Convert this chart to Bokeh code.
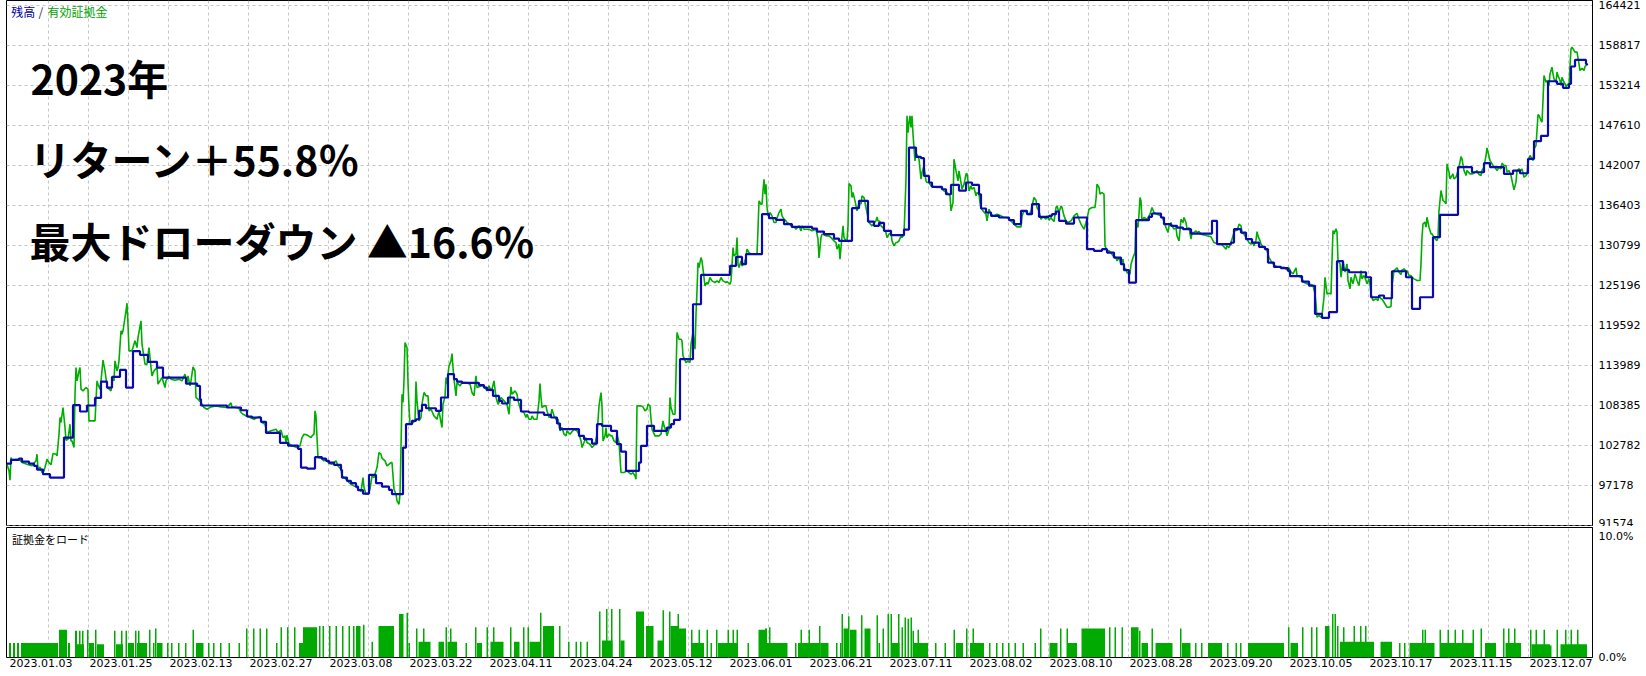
from bokeh.plotting import figure
from bokeh.models import Range1d, LinearAxis, FixedTicker, Label
from bokeh.layouts import column
from bokeh.embed import file_html
from bokeh.resources import INLINE

# ---------------- data ----------------
# equity (有効証拠金): x = deal/bar index, y = account value
eq_bar = [-1, 1, 2, 3, 4, 11, 14, 19, 24, 28, 29, 30, 32, 34, 36, 38, 39, 41, 43, 45, 48, 49, 51, 52, 53, 55, 57, 58, 60, 62,
          63, 64, 66, 67, 68, 69, 71, 72, 73, 75, 78, 80, 81, 83, 87, 89, 90, 92, 93, 95, 97, 99, 100, 103, 105, 106, 107, 109, 110, 111,
          113, 114, 115, 117, 118, 119, 120, 121, 124, 127, 129, 130, 133, 134, 135, 137, 139, 141, 143, 144, 146, 149, 150, 152, 154, 157, 158, 161, 163, 167,
          171, 174, 177, 179, 180, 182, 183, 185, 187, 188, 190, 193, 196, 199, 203, 208, 213, 219, 223, 224, 228, 231, 233, 235, 239, 242, 246, 249, 252, 254,
          257, 259, 263, 268, 270, 273, 275, 277, 278, 279, 281, 284, 289, 292, 294, 296, 299,
          303, 304, 306, 307, 308, 309, 310, 313, 316, 318, 321, 324, 328, 330, 333, 334, 336, 339, 341, 343, 346, 349, 353, 355, 356, 358, 360, 362, 364, 366,
          369, 371, 373, 374, 377, 379, 383, 384, 386, 388, 389, 391, 392, 393, 394, 395, 396, 397, 399, 400, 401, 402, 404, 407, 408, 409, 411, 413, 414, 416,
          418, 420, 421, 423, 426, 429, 431, 433, 434, 435, 437, 438, 439, 440, 441, 443, 444, 445, 446, 448, 449, 452, 454, 458, 462, 464, 466, 468, 469, 473,
          476, 479, 481, 483, 484, 486, 488, 490, 491, 493, 496, 499, 501, 503, 504, 507, 509, 510, 513, 516, 518, 519, 521, 523, 524, 526, 529, 531, 532, 533,
          534, 536, 538, 539, 541, 543, 544, 546, 549, 550, 552, 554, 556, 558, 559, 562, 566, 569, 571, 573, 574, 576, 578, 579, 582, 584, 587, 589, 590, 591,
          593, 594, 595, 597, 598, 599, 601, 603, 604, 606, 608, 609, 611, 613, 616, 619, 621, 623, 625, 627, 628,
          629, 633, 635, 637, 639, 640, 642, 643, 644, 647, 651, 653, 655, 656, 658, 659, 661, 662, 663, 665, 667, 668, 669, 671, 673, 674, 675, 678, 680, 682,
          683, 685, 687, 688, 689, 690, 691, 693, 694, 695, 697, 699, 700, 702, 704, 707, 709, 711, 713, 715, 718, 719, 722, 723, 724, 725, 726, 728, 729, 730,
          731, 733, 734, 736, 738, 739, 741, 743, 745, 749, 750, 751, 753, 754, 755, 756, 757, 758, 759, 760, 762, 764, 766, 768, 769, 771, 773, 774, 776, 778,
          779, 782, 784, 786, 788, 791, 793, 794, 796, 799, 801, 804, 808, 810, 811, 813, 814, 815, 818, 821, 823, 826, 828, 829, 831, 832, 833, 835, 836, 838,
          839, 840, 841, 843, 844, 845, 847, 849, 851, 853, 854, 856, 858, 859, 861, 864, 868, 869, 870, 872, 873, 875, 877, 878, 879, 881, 883, 884, 886, 888,
          889, 891, 893, 894, 896, 898, 899, 900, 901, 902, 903, 904, 905, 907, 908, 909, 911, 913, 914, 916, 918, 919, 921, 923, 926, 929, 933, 936, 939, 942,
          943, 945, 946,
          948, 950, 951, 953, 954, 956, 958, 959, 960, 961, 963, 964, 966, 968, 969, 971, 972, 973, 975, 978, 979, 981, 983, 986, 989, 993, 996, 999, 1003, 1006,
          1009, 1013, 1014, 1016, 1019, 1021, 1023, 1024, 1026, 1028, 1029, 1031, 1033, 1035, 1038, 1039, 1041, 1043, 1044, 1046, 1048, 1049, 1051, 1053, 1054, 1056, 1058, 1060, 1063, 1066,
          1068, 1069, 1071, 1073, 1074, 1076, 1078, 1079, 1081, 1084, 1087, 1088, 1089, 1091, 1092, 1094, 1096, 1097, 1099, 1101, 1103, 1105, 1108, 1109, 1111, 1113, 1115, 1116, 1118, 1119,
          1122, 1123, 1125, 1127, 1128, 1130, 1131, 1132, 1133, 1134, 1136, 1139, 1142, 1144, 1146, 1149, 1153, 1155, 1157, 1158, 1160, 1161, 1163, 1164, 1166, 1168, 1169, 1171, 1172, 1173,
          1175, 1176, 1178, 1179, 1181, 1183, 1184, 1186, 1188, 1189, 1191, 1193, 1196, 1199, 1203, 1206, 1209, 1213, 1215, 1218, 1219, 1221, 1223, 1224, 1226, 1228, 1229, 1231, 1233, 1234,
          1236, 1238, 1239, 1241, 1243, 1244, 1246, 1248, 1249, 1250, 1252, 1253, 1255, 1258, 1259, 1261, 1263, 1264, 1266, 1269, 1273,
          1276, 1279, 1281, 1283, 1285, 1288, 1289, 1293, 1296, 1299, 1303, 1305, 1307, 1308, 1309, 1311, 1313, 1314, 1316, 1317, 1319, 1321, 1323, 1324, 1325, 1326, 1328, 1329, 1330, 1332,
          1333, 1335, 1337, 1339, 1340, 1342, 1343, 1345, 1347, 1349, 1351, 1353, 1354, 1356, 1358, 1359, 1361, 1362, 1363, 1365, 1368, 1370, 1371, 1373, 1374, 1376, 1379, 1381, 1383, 1384,
          1386, 1388, 1389, 1391, 1393, 1394, 1396, 1398, 1399, 1401, 1403, 1404, 1406, 1408, 1409, 1412, 1413, 1414, 1415, 1417, 1418, 1419, 1421, 1423, 1424, 1426, 1428, 1429, 1430, 1431,
          1433, 1434, 1435, 1437, 1438, 1439, 1441, 1442, 1443, 1445, 1446, 1448, 1449, 1451, 1453, 1454, 1456, 1458, 1459, 1462, 1464, 1466, 1469, 1471, 1473, 1474, 1476, 1478, 1479, 1480,
          1482, 1483, 1485, 1488, 1489, 1491, 1493, 1494, 1496, 1498, 1499, 1501, 1503, 1504, 1506, 1508, 1509, 1511, 1513, 1514, 1516, 1518, 1519, 1520, 1522, 1523, 1525, 1526, 1528, 1529,
          1530, 1531, 1533, 1534, 1535, 1536, 1537, 1538, 1539, 1541, 1542, 1544, 1545, 1546, 1548, 1549, 1550, 1552, 1553, 1554, 1556, 1557, 1558, 1560, 1561, 1562, 1563, 1564, 1566, 1567,
          1569, 1571, 1572, 1574, 1576, 1577, 1579]
eq_val = [100120, 99180, 97880, 101050, 100730, 100820, 100350, 100120, 99890, 100590, 101520, 99420, 99740, 98950, 99180, 100210, 100820, 100350, 100030, 101610, 101520, 101290, 104320, 106660, 105960, 108060, 105260, 103480, 103620, 105720,
          103390, 103390, 102450, 109930, 113660, 111790, 113190, 113660, 110630, 110390, 110860, 110630, 106190, 106190, 106190, 111790, 111330, 110630, 111790, 114690, 113190, 111090, 110770, 110390, 112260, 111790, 114600, 113190, 113660, 114600,
          118800, 118330, 118800, 120670, 121600, 122670, 119730, 116000, 116000, 117400, 116460, 117860, 120200, 116930, 116000, 114130, 114130, 116460, 113660, 112490, 113190, 113660, 111330, 111790, 112260, 110860, 111790, 112450, 112030, 111890,
          112030, 111790, 112730, 111560, 112490, 111090, 111790, 113750, 113190, 109460, 109230, 108760, 108060, 107820, 108150, 108290, 108150, 108060, 108710, 108150, 108060, 107920, 107360, 107120, 106840, 106660, 106420, 106660, 106800, 105960,
          105720, 104560, 104790, 105020, 104560, 104880, 103850, 104090, 103150, 104180, 103010, 102690, 102450, 102690, 103850, 104320, 104230,
          103850, 104090, 104320, 107590, 106890, 103850, 101050, 100960, 100590, 100820, 100210, 100120, 100590, 99880, 99420, 98480, 98250, 97880, 97550, 97320, 97080, 96850, 96290, 98250, 96850, 95920, 95920, 96620, 98480, 98250,
          99650, 101750, 101520, 100960, 100590, 99880, 100350, 100350, 96620, 95920, 94980, 94510, 95920, 102450, 109930, 108760, 111790, 117160, 116460, 111560, 108060, 105720, 105820, 106190, 111700, 108990, 106190, 106660, 108520, 110160,
          109690, 109690, 107590, 107820, 106890, 106420, 107590, 105960, 105260, 108520, 109550, 112260, 111330, 112730, 113890, 114600, 115620, 113660, 112030, 109690, 111560, 111090, 111560, 111560, 111330, 110160, 109690, 112490, 110860, 111090,
          111090, 110390, 111090, 110390, 110630, 111790, 109460, 108520, 108760, 109460, 108990, 108520, 107120, 110950, 109930, 110390, 109930, 108990, 107590, 107360, 106660, 107120, 106420, 106420, 106890, 106420, 106420, 108990, 111420, 109460,
          108060, 108290, 108290, 107590, 106660, 107120, 107820, 106890, 106190, 106420, 104790, 105260, 104320, 104090, 104790, 104320, 105020, 104790, 104320, 103390, 102450, 103150, 103850, 103150, 102920, 102450, 102920, 104320, 106190, 108290,
          110160, 108290, 103390, 104090, 105260, 103850, 104320, 104090, 104090, 103390, 103150, 104320, 103150, 98950, 98950, 99180, 98950, 98720, 98950, 98480, 98020,
          108290, 108290, 108150, 107590, 107820, 108520, 108290, 106420, 105020, 104090, 104090, 104320, 106190, 105490, 104790, 104090, 105020, 109460, 108060, 107120, 107120, 112730, 118560, 117630, 117630, 117400, 115290, 114360, 114590, 114360,
          116930, 118560, 116230, 121130, 124400, 128370, 127670, 129070, 128600, 127440, 125100, 125570, 125330, 126270, 125800, 125570, 125800, 125570, 126270, 125800, 125570, 125710, 125330, 125800, 127900, 130470, 129300, 129540, 131870, 128140,
          127670, 128600, 127900, 128230, 129070, 130240, 129770, 129540, 129540, 129540, 133040, 137010, 136540, 136540, 138410, 140040, 137940, 139340, 136080, 134910, 135370, 134910, 133970, 133970, 134580, 135370, 135840, 134910, 134440, 134210,
          133970, 133740, 133270, 133370, 133040, 133510, 132810, 133510, 133040, 133040, 133040, 132810, 133040, 131640, 129000, 131870, 132340, 132340, 132110, 132110, 131870, 131410, 131170, 130240, 130940, 128840, 130470, 133510, 131870, 131410,
          131410, 133510, 139440, 139110, 137480, 138180, 137010, 135610, 136780, 136540, 137710, 137480, 136080, 135370, 133970, 133510, 134210, 134770, 134210, 134110, 133510, 133270, 132810, 132570, 131870, 132340, 132570, 131410, 130700, 131170,
          131170, 131410, 132110, 131870, 132340, 140040, 148920, 146580, 147980, 148920, 147280, 148920, 146350, 142610, 143550, 143550, 142850, 140040, 140980, 141910, 139810, 139580, 139580, 139110, 138970, 138880, 138880, 138410, 138180, 137710,
          135610, 136780, 142850,
          141210, 139810, 141210, 139580, 138640, 139350, 140750, 140840, 139810, 138410, 139110, 138640, 138880, 137710, 138180, 137940, 136780, 136080, 135610, 135140, 134210, 135840, 135140, 134910, 135140, 134910, 134680, 134680, 134210, 133740,
          133370, 133370, 134910, 135610, 135380, 135050, 135610, 136310, 137480, 137100, 136080, 135610, 134440, 134770, 134440, 134910, 134300, 134680, 134440, 134110, 136080, 136310, 135380, 136310, 136080, 134910, 134210, 133970, 134210, 134910,
          135140, 135240, 134440, 133740, 133510, 133040, 133970, 134440, 135840, 136080, 136080, 137240, 139350, 138880, 137940, 138180, 137940, 130710, 130010, 130010, 129770, 129310, 129070, 128600, 129070, 128140, 128840, 127670, 127440, 126970,
          126740, 128140, 129070, 129770, 134210, 133270, 135140, 137480, 137010, 134210, 134680, 134440, 135140, 136080, 135380, 135140, 134910, 134440, 133740, 133270, 132570, 133510, 133970, 133510, 133040, 133270, 132110, 131410, 132810, 134440,
          133970, 134680, 133970, 133040, 133270, 131640, 132570, 132570, 132810, 132570, 132710, 132340, 132250, 132110, 131970, 131170, 131030, 130940, 130710, 130240, 130710, 130470, 131170, 131640, 132570, 133040, 132810, 133740, 133510, 132570,
          132340, 131870, 131640, 131170, 130940, 131410, 130710, 131500, 132710, 132110, 131410, 130940, 130570, 130240, 130010, 129070, 128600, 128370, 128040, 127760, 127670,
          127720, 127340, 127620, 127020, 126780, 127620, 126550, 126310, 125610, 125380, 125290, 125150, 123980, 122580, 120710, 120940, 120710, 120940, 123510, 126310, 123980, 124070, 123980, 128650, 132850, 132390, 133090, 132620, 128650, 128180,
          126310, 128650, 127020, 128180, 125850, 124680, 126310, 125380, 126780, 125850, 125150, 127250, 126080, 126550, 125850, 125380, 126080, 125380, 123980, 123050, 123280, 123050, 123750, 123280, 123280, 122810, 122110, 122110, 122200, 125150,
          127250, 127480, 127620, 127020, 126690, 127340, 127480, 127150, 127250, 126550, 126550, 126310, 126080, 125940, 125850, 125850, 128180, 131920, 133790, 134020, 133320, 134720, 133320, 132390, 132390, 131920, 131550, 131450, 131920, 135650,
          138460, 137760, 137060, 136820, 136590, 142190, 141030, 140090, 140320, 140790, 140090, 140320, 140790, 141730, 143220, 142890, 141260, 140560, 141260, 140790, 140790, 140880, 141260, 140700, 140560, 141260, 141730, 143360, 144430, 143830,
          142660, 142430, 141960, 141490, 141260, 141730, 141490, 142290, 141960, 141960, 141030, 141260, 140560, 139860, 138550, 139630, 141260, 141490, 141260, 141490, 140320, 140560, 140790, 142430, 143360, 143130, 142660, 144290, 144760, 146860,
          149100, 148960, 148260, 148030, 151070, 154570, 154100, 153630, 153870, 153170, 154800, 155740, 154800, 154100, 153630, 155040, 154570, 153870, 153170, 154330, 153630, 153400, 153030, 153400, 153030, 155970, 158300, 158540, 158070, 157840,
          157840, 156200, 155270, 155600, 155270, 155830, 156110]

# balance (残高): value holds from its index until the next change
bal_bar = [-1, 3, 11, 14, 21, 26, 29, 35, 42, 56, 65, 72, 79, 87, 93, 99, 104, 112, 118, 125, 132, 140, 149, 155, 178, 189, 192, 193, 219, 233,
           239, 244, 253, 258, 272, 280, 290, 293, 299, 307, 314, 318, 321, 326, 333, 334, 339, 343, 348, 350, 355, 361, 368, 374, 381, 384, 395, 398, 404, 408,
           411, 414, 418, 428, 433, 440, 446, 449, 454, 471, 476, 479, 485, 491, 494, 500, 506, 513, 521, 536, 543, 549, 552, 571, 576, 584, 589, 594, 603, 609,
           613, 618, 631, 633, 639, 646, 659, 663, 666, 672, 685, 693, 722, 728, 734, 738, 754, 761, 768, 776, 784, 804, 809, 816, 826, 831, 844, 851, 860, 866,
           871, 876, 883, 896, 901, 908, 913, 916, 921, 924, 934, 938, 943, 951, 958, 964, 971, 973, 978, 983, 991, 1001, 1006, 1013, 1019, 1024, 1031, 1041, 1044, 1048,
           1051, 1058, 1066, 1079, 1086, 1094, 1099, 1106, 1113, 1116, 1121, 1128, 1141, 1144, 1153, 1156, 1163, 1169, 1175, 1183, 1204, 1209, 1223, 1226, 1233, 1238, 1244, 1251, 1257, 1260,
           1266, 1273, 1280, 1282, 1294, 1301, 1307, 1314, 1321, 1329, 1335, 1341, 1358, 1363, 1371, 1376, 1384, 1398, 1404, 1412, 1425, 1432, 1450, 1464, 1476, 1482, 1496, 1505, 1512, 1520,
           1526, 1533, 1540, 1549, 1555, 1561, 1563, 1567, 1578, 1579]
bal_val = [100210, 100730, 100910, 100490, 100210, 99890, 99370, 98720, 98250, 103850, 108390, 107500, 108340, 109410, 111700, 110860, 112350, 113330, 110860, 115950, 115440, 114460, 113660, 112260, 111420, 111090, 109230, 108340, 108060, 107680,
           106800, 106660, 106050, 104510, 103110, 102730, 102270, 99650, 99510, 101100, 100910, 100590, 100350, 100030, 99320, 98250, 97780, 97460, 96990, 96480, 96010, 98620, 97460, 96990, 96520, 95920, 102450, 105720, 106190, 106420,
           107590, 108430, 107960, 107590, 109460, 112730, 112030, 111700, 111510, 111190, 110860, 110530, 109690, 108990, 108620, 109460, 109130, 107500, 107360, 107030, 106660, 105820, 105020, 104090, 103620, 103010, 105720, 105490, 104790, 102920,
           101890, 99180, 100350, 102690, 105490, 104790, 105250, 105720, 106330, 114830, 122530, 126640, 127900, 129160, 128140, 129540, 135140, 134580, 134350, 133740, 133370, 133130, 132710, 132340, 131730, 131410, 135980, 137010, 134110, 133510,
           133930, 132810, 132200, 132990, 144480, 143170, 142990, 140510, 139580, 138970, 138640, 137940, 139250, 138450, 139580, 139250, 137940, 135940, 135380, 134910, 134680, 134300, 133740, 135610, 135140, 136540, 134770, 134910, 135140, 135520,
           134210, 133830, 134680, 130240, 130010, 130240, 129770, 129070, 128140, 127300, 125570, 134300, 134770, 135240, 134680, 133740, 133510, 133270, 133040, 132430, 134210, 130940, 131170, 133040, 132570, 131640, 131170, 130570, 130240, 128370,
           127760, 127580, 127200, 126460, 125700, 125120, 121180, 120620, 121410, 128560, 127340, 127010, 126310, 123510, 123750, 123370, 127150, 126310, 121880, 123510, 131920, 135050, 141730, 141020, 142290, 141730, 140790, 141260, 140880, 142890,
           145370, 146120, 153770, 153400, 152840, 153400, 155830, 156760, 156200, 156010]

# margin load (証拠金をロード): runs of bars [from, to) with load in %
load_from = [1, 5, 9, 13, 51, 60, 67, 69, 71, 74,
             79, 81, 87, 89, 106, 108, 113, 117.5, 120, 127,
             129, 130, 141, 145, 147, 149, 159, 163, 170, 177,
             184.5, 188, 200, 205, 212, 220.5, 230.5, 238, 245, 251.5,
             258, 268, 272.5, 279, 286, 291, 295, 311, 314.5, 321,
             327.5, 334, 340.5, 345, 348, 355, 363.5, 370.5, 391, 398.5,
             400.5, 408, 410.5, 415, 430.5, 437.5, 439.5, 442, 457.5, 467,
             469, 478.5, 482.5, 485, 502, 506, 515, 519.5, 521.5, 532,
             535, 551, 560, 567.5, 572, 578.5, 591, 594, 598, 603,
             611, 612.5, 628, 638, 649.5, 654.5, 661, 662.5, 669.5, 671,
             683, 684, 690.5, 698.5, 702.5, 708, 710, 719.5, 724.5, 728.5,
             739.5, 750.5, 757, 759, 761, 787, 790, 792.5, 800.5, 811,
             812.5, 828, 832, 833.5, 835.5, 840, 842, 853, 856.5, 868.5,
             870.5, 874.5, 879.5, 882.5, 884, 890, 893.5, 896.5, 899.5, 902.5,
             904.5, 906, 909.5, 927, 936.5, 945.5, 948, 958, 962, 964.5,
             981, 988, 994, 1000, 1006.5, 1014.5, 1026.5, 1032, 1041.5, 1052,
             1058.5, 1060, 1073.5, 1101, 1106.5, 1113.5, 1123, 1131, 1133.5, 1143.5,
             1147.5, 1172, 1174, 1187, 1193, 1200, 1219, 1227.5, 1232, 1240,
             1280, 1282.5, 1294, 1303, 1308, 1317, 1324, 1326.5, 1329, 1332,
             1335, 1345.5, 1352, 1357, 1372.5, 1391, 1396, 1401.5, 1414, 1416.5,
             1431.5, 1433, 1439.5, 1446.5, 1454, 1464.5, 1472.5, 1477, 1495, 1497.5,
             1500, 1506, 1522, 1523.5, 1527.5, 1535.5, 1542, 1548.5, 1552.5, 1557,
             1562.5, 1569]
load_to = [3, 7, 11, 50, 59, 62, 69, 76, 72.5, 75.5,
           80.5, 86, 88.5, 96, 107.5, 115, 114.5, 119, 126, 128.5,
           139, 131.5, 142.5, 146.5, 148.5, 154.5, 160.5, 164.5, 171.5, 178.5,
           186, 195.5, 201.5, 206.5, 213.5, 222, 232, 239.5, 246.5, 253,
           259.5, 269.5, 274, 280.5, 287.5, 295, 309, 312.5, 316, 322.5,
           329, 335.5, 342, 346.5, 352.5, 356.5, 365, 386, 395.5, 400,
           402, 409.5, 422.5, 416.5, 436, 439, 449, 443.5, 459, 468.5,
           474, 480, 495.5, 486.5, 503.5, 511.5, 516.5, 521, 532, 533.5,
           546, 552.5, 561.5, 569, 573.5, 580, 592.5, 604.5, 599.5, 604.5,
           612.5, 616.5, 636, 645.5, 656, 656, 662.5, 670, 671, 678,
           684.5, 696, 692, 700, 704, 709.5, 730, 721, 726, 730,
           741, 757, 759, 779.5, 762.5, 788.5, 812.5, 794, 802, 812.5,
           820.5, 829.5, 833.5, 835, 840, 841.5, 848.5, 854.5, 862.5, 870,
           872, 876, 881, 884, 891.5, 891.5, 895, 898, 901, 904,
           906, 920, 911, 928.5, 938, 947, 955, 959.5, 976, 966,
           982.5, 989.5, 995.5, 1001.5, 1008, 1016, 1028, 1033.5, 1049.5, 1053.5,
           1060, 1069, 1097, 1102.5, 1108, 1115, 1130.5, 1132.5, 1140, 1145,
           1164.5, 1173.5, 1182.5, 1188.5, 1194.5, 1214, 1220.5, 1229, 1233.5, 1276,
           1281.5, 1290, 1295.5, 1304.5, 1309.5, 1321.5, 1325.5, 1328, 1330.5, 1366,
           1336.5, 1347, 1353.5, 1358.5, 1384, 1392.5, 1397.5, 1426.5, 1415.5, 1418,
           1433, 1466, 1441, 1448, 1455.5, 1466, 1474, 1488, 1496.5, 1513,
           1501.5, 1507.5, 1523.5, 1542, 1529, 1537, 1543.5, 1550, 1579, 1558.5,
           1564, 1570.5]
load_pct = [1.2, 1.2, 1.2, 1.2, 2.3, 1.2, 2.2, 1.1, 2.2, 2.2,
            2.3, 1.2, 2.3, 1.1, 2.2, 1.1, 2.2, 2.2, 1.2, 2.2,
            1.2, 2.2, 2.3, 1.2, 2.4, 1.2, 1.2, 1.2, 1.2, 1.2,
            2.3, 1.2, 1.2, 1.2, 1.2, 1.2, 1.2, 2.4, 2.4, 2.4,
            2.4, 1.2, 2.5, 2.5, 2.5, 1.2, 2.5, 2.6, 2.6, 2.6,
            2.6, 2.6, 2.6, 2.6, 2.6, 2.7, 1.3, 2.6, 3.6, 3.7,
            1.2, 2.4, 1.3, 2.4, 1.3, 2.5, 1.3, 2.4, 1.2, 2.5,
            1.2, 2.5, 1.3, 2.5, 2.5, 1.3, 2.5, 2.5, 1.3, 3.7,
            2.6, 2.6, 1.3, 1.3, 1.3, 1.3, 3.8, 1.4, 4.0, 4.0,
            4.0, 1.4, 3.8, 2.6, 1.4, 3.9, 3.8, 2.6, 3.6, 2.4,
            2.3, 1.2, 2.3, 2.3, 1.2, 2.3, 1.2, 2.3, 2.3, 2.3,
            1.2, 2.3, 2.4, 1.2, 2.5, 1.2, 1.2, 2.3, 2.3, 2.6,
            1.2, 1.2, 1.2, 3.6, 2.4, 3.4, 2.3, 3.5, 2.4, 3.5,
            1.2, 2.4, 3.6, 3.6, 1.2, 3.6, 2.5, 3.3, 3.2, 3.3,
            2.2, 1.2, 2.3, 1.2, 1.2, 2.3, 1.2, 2.4, 1.2, 2.4,
            1.2, 1.2, 1.2, 1.2, 1.2, 1.2, 1.2, 2.4, 1.2, 2.4,
            2.4, 1.2, 2.4, 2.5, 2.5, 2.5, 2.5, 2.2, 1.2, 2.4,
            1.2, 2.4, 1.2, 1.2, 1.2, 1.2, 1.2, 1.2, 1.2, 1.2,
            2.5, 1.2, 2.5, 2.5, 2.5, 2.6, 3.6, 3.6, 2.6, 1.3,
            2.5, 2.6, 2.6, 2.6, 1.3, 1.2, 1.2, 1.2, 2.3, 2.3,
            2.3, 1.2, 2.3, 2.3, 2.3, 2.3, 2.4, 1.2, 2.4, 1.2,
            2.4, 2.4, 2.3, 1.1, 2.3, 2.3, 1.0, 2.3, 1.1, 2.3,
            2.3, 2.3]

date_labels = ["2023.01.03", "2023.01.25", "2023.02.13", "2023.02.27", "2023.03.08",
               "2023.03.22", "2023.04.11", "2023.04.24", "2023.05.12", "2023.06.01",
               "2023.06.21", "2023.07.11", "2023.08.02", "2023.08.10", "2023.08.28",
               "2023.09.20", "2023.10.05", "2023.10.17", "2023.11.15", "2023.12.07"]
price_ticks = [91574, 97178, 102782, 108385, 113989, 119592, 125196,
               130799, 136403, 142007, 147610, 153214, 158817, 164421]
load_ticks = [0, 10]
load_tick_labels = ["0.0%", "10.0%"]

legend_balance = "残高"
legend_equity = "有効証拠金"
title_lines = ["2023年", "リターン＋55.8％", "最大ドローダウン ▲16.6％"]
sub_title = "証拠金をロード"

# ---------------- styling ----------------
GREEN = "#00AE00"
BLUE = "#0A0AAE"
BAR_GREEN = "#00AA00"
GRID = "#C4C4C4"
AXIS_FONT = "DejaVu Sans"
JP_FONT = "Noto Sans CJK JP"

x_range = Range1d(-1.5, 1584.5)
grid_ticks = [40 * k for k in range(1, 40)]

main = figure(width=1646, height=526, x_range=x_range, y_range=Range1d(91532, 165079),
              output_backend="svg", toolbar_location=None,
              x_axis_location=None, y_axis_location=None,
              min_border_left=6, min_border_right=54, min_border_top=0, min_border_bottom=1,
              background_fill_color="white", border_fill_color="white",
              outline_line_color="black", outline_line_width=1)

main.xgrid.ticker = FixedTicker(ticks=grid_ticks)
main.ygrid.ticker = FixedTicker(ticks=price_ticks)
for g in (main.xgrid, main.ygrid):
    g.grid_line_color = GRID
    g.grid_line_dash = "3 3"
    g.grid_line_width = 1

yax = LinearAxis(ticker=FixedTicker(ticks=price_ticks),
                 major_label_overrides={t: str(t) for t in price_ticks},
                 major_tick_out=0, major_tick_in=0, minor_tick_out=0, minor_tick_in=0,
                 major_label_standoff=6, axis_line_color="black",
                 major_label_text_font=AXIS_FONT, major_label_text_font_size="11px",
                 major_label_text_color="black")
main.add_layout(yax, "right")

main.line(eq_bar, eq_val, line_color=GREEN, line_width=1.6)
main.step(bal_bar, bal_val, mode="after", line_color=BLUE, line_width=2.2)

# legend-like header
main.add_layout(Label(x=4.7, y=514.3, x_units="screen", y_units="screen", text=legend_balance,
                      text_font=JP_FONT, text_font_size="12px", text_color="#0000A0",
                      text_baseline="middle"))
main.add_layout(Label(x=32, y=514.3, x_units="screen", y_units="screen", text="/",
                      text_font=JP_FONT, text_font_size="12px", text_color="#303060",
                      text_baseline="middle"))
main.add_layout(Label(x=41, y=514.3, x_units="screen", y_units="screen", text=legend_equity,
                      text_font=JP_FONT, text_font_size="12px", text_color="#00A000",
                      text_baseline="middle"))

for txt, xx, yy in zip(title_lines, [24, 23, 23], [449, 368, 286]):
    main.add_layout(Label(x=xx, y=yy, x_units="screen", y_units="screen", text=txt,
                          text_font=JP_FONT, text_font_style="bold", text_font_size="41px",
                          text_color="black", text_baseline="middle"))

# ---------------- margin load panel ----------------
sub = figure(width=1646, height=150, x_range=x_range, y_range=Range1d(0, 10.74),
             output_backend="svg", toolbar_location=None,
             x_axis_location=None, y_axis_location=None,
             min_border_left=6, min_border_right=54, min_border_top=1, min_border_bottom=19,
             background_fill_color="white", border_fill_color="white",
             outline_line_color="black", outline_line_width=1)
sub.xgrid.ticker = FixedTicker(ticks=grid_ticks)
sub.xgrid.grid_line_color = GRID
sub.xgrid.grid_line_dash = "3 3"
sub.ygrid.visible = False

sub.quad(left=load_from, right=load_to, bottom=0, top=load_pct,
         fill_color=BAR_GREEN, line_color=None)

label_pos = [33 + 80 * i for i in range(len(date_labels))]
xax = LinearAxis(ticker=FixedTicker(ticks=label_pos),
                 major_label_overrides={p: d for p, d in zip(label_pos, date_labels)},
                 major_tick_out=0, major_tick_in=0, minor_tick_out=0, minor_tick_in=0,
                 major_label_standoff=1, axis_line_color=None,
                 major_label_text_font=AXIS_FONT, major_label_text_font_size="11px",
                 major_label_text_color="black")
sub.add_layout(xax, "below")

rax = LinearAxis(ticker=FixedTicker(ticks=load_ticks),
                 major_label_overrides={t: s for t, s in zip(load_ticks, load_tick_labels)},
                 major_tick_out=0, major_tick_in=0, minor_tick_out=0, minor_tick_in=0,
                 major_label_standoff=6, axis_line_color="black",
                 major_label_text_font=AXIS_FONT, major_label_text_font_size="11px",
                 major_label_text_color="black")
sub.add_layout(rax, "right")

sub.add_layout(Label(x=5.5, y=118.7, x_units="screen", y_units="screen", text=sub_title,
                     text_font=JP_FONT, text_font_size="11px", text_color="black",
                     text_baseline="middle"))

layout = column(main, sub, spacing=0)

open("out.html", "w").write(file_html(layout, INLINE))
